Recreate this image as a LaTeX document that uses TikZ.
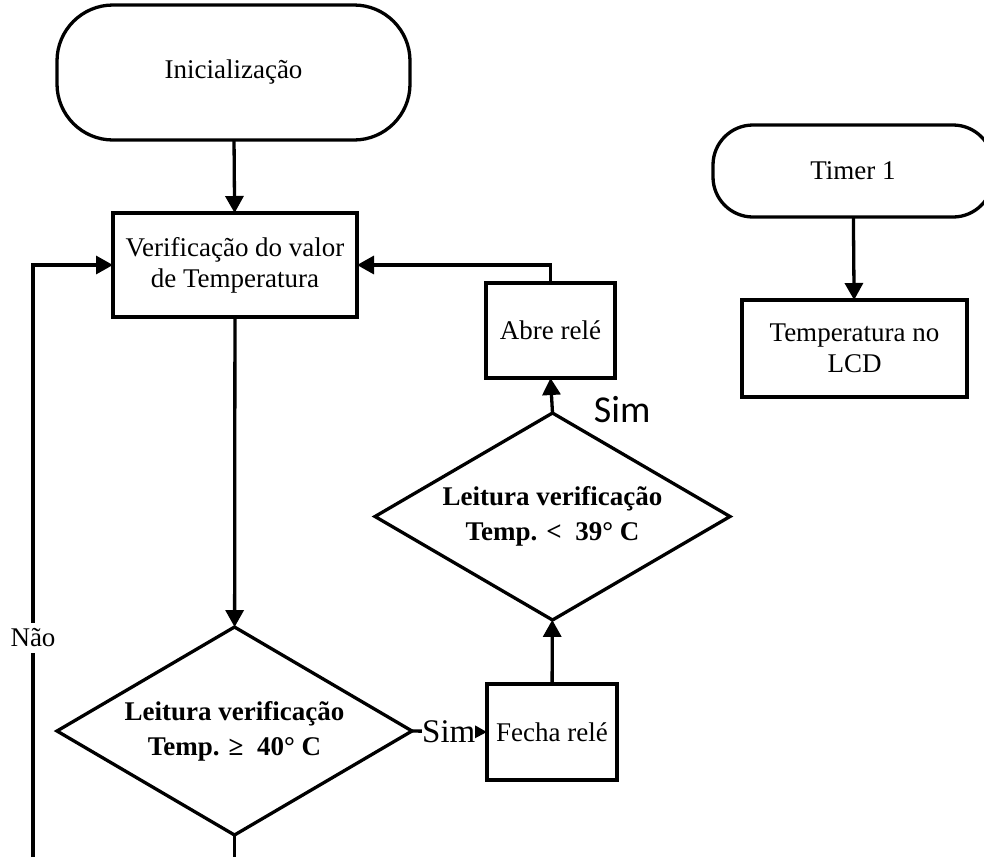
\documentclass[tikz,border=0pt]{standalone}
\usepackage{fontspec}
\setmainfont{Liberation Serif}
\newfontfamily\simfont{Carlito}
\usetikzlibrary{arrows.meta, positioning, shapes.geometric}
\tikzset{%
   % flow chart blocks (one unit of the picture = .5pt)
   term/.style={
      draw,
      rounded corners=28pt,
      align=center,
      inner sep=0pt,
      outer sep=0pt
   },
   proc/.style={
      draw,
      rectangle,
      align=center,
      inner sep=0pt,
      outer sep=0pt
   },
   cond/.style={
      draw,
      diamond,
      aspect=1.7,
      align=center,
      inner sep=0pt,
      outer sep=0pt,
      minimum width=177.5pt,
      minimum height=104pt,
      font=\fontsize{13.5}{17.5}\selectfont\bfseries
   },
   flow/.style={-{Triangle[length=8.5pt, width=9pt]}},
   smallflow/.style={-{Triangle[length=6pt, width=6pt]}},
   yes/.style={fill=white, inner sep=0pt, font=\fontsize{16.5}{18}\selectfont},
}

\begin{document}
\begin{tikzpicture}[x=.5pt, y=-.5pt, line width=1.65pt,
                    font=\fontsize{13.5}{15.5}\selectfont]
  \clip (0,0) rectangle (984,857);

  \node[term, minimum width=176.5pt, minimum height=67.5pt] (init) at (233.5,72.5) {Inicialização};
  \node[proc, minimum width=122pt, minimum height=52pt] (verif) at (235,265) {Verificação do valor\\de Temperatura};
  \node[cond] (test40) at (234.5,731) {Leitura verificação\\Temp. ≥\ \ 40° C};
  \node[proc, minimum width=65pt, minimum height=48pt] (fecha) at (552,732) {Fecha relé};
  \node[cond, minimum height=103.5pt] (test39) at (552.5,516.5) {Leitura verificação\\Temp. <\ \ 39° C};
  \node[proc, minimum width=64.5pt, minimum height=47.5pt] (abre) at (550.5,330.5) {Abre relé};

  \node[term, rounded corners=20pt, minimum width=140pt, minimum height=46pt] (timer) at (853,171) {Timer 1};
  \node[proc, minimum width=112.5pt, minimum height=48.5pt] (lcd) at (854.5,348.5) {Temperatura no\\LCD};

  % the two lines leave the page at the bottom
  \coordinate (loopend) at (33,857);
  \coordinate (downend) at (234.5,857);

  \draw[flow] (init) -- (verif);
  \draw[flow] (verif) -- (test40);
  \draw[smallflow] (test40.east) -- node[yes, pos=.49] {Sim} (fecha.west);
  \draw[flow] (fecha) -- (test39);
  \draw[flow] (test39.north) -- node[pos=.1, right=20pt, inner sep=0pt,
      font=\simfont\fontsize{19}{22}\selectfont] {Sim} (abre.south);
  \draw[flow] (abre.north) |- (verif.east);
  \draw[flow] (loopend) |- node[pos=.185, fill=white, inner xsep=0pt, inner ysep=3pt] {Não} (verif.west);
  \draw (test40.south) -- (downend);

  \draw[flow] (timer) -- (lcd);
\end{tikzpicture}
\end{document}
